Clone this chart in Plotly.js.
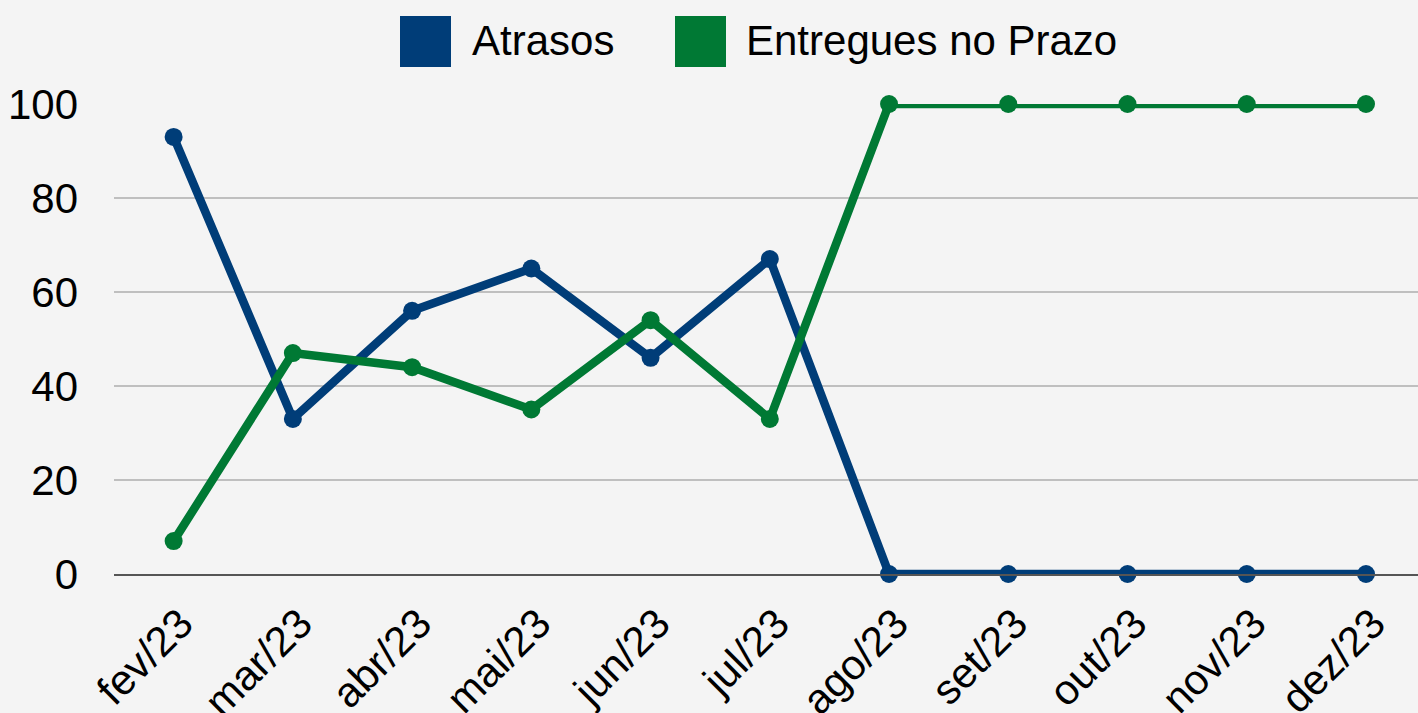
<!DOCTYPE html>
<html>
<head>
<meta charset="utf-8">
<script src="https://cdn.plot.ly/plotly-3.0.1.min.js"></script>
<style>html,body{margin:0;padding:0;background:#f4f4f4;}#chart{width:1418px;height:713px;}</style>
</head>
<body>
<div id="chart"></div>
<script>
const months = ["fev/23","mar/23","abr/23","mai/23","jun/23","jul/23","ago/23","set/23","out/23","nov/23","dez/23"];
const atrasos = [93, 33, 56, 65, 46, 67, 0, 0, 0, 0, 0];
const entregues = [7, 47, 44, 35, 54, 33, 100, 100, 100, 100, 100];
const seriesNames = ["Atrasos", "Entregues no Prazo"];
const colors = ["#003d78", "#007934"];
const yTicks = [0, 20, 40, 60, 80, 100];

const W = 1418, H = 713, L = 114, R = 0, T = 104, B = 139;
const pw = W - L - R, ph = H - T - B;
const px = x => (x - L) / pw;
const py = y => (H - B - y) / ph;

const font = "Liberation Sans, Arial, sans-serif";

const traces = [atrasos, entregues].map((vals, i) => ({
  type: "scatter",
  mode: "lines+markers",
  x: months,
  y: vals,
  name: seriesNames[i],
  showlegend: false,
  line: {color: colors[i], width: 8.5},
  marker: {color: colors[i], size: 18},
  cliponaxis: false
}));

const legendX = [400, 675];
const textX = [473, 747];
const shapes = legendX.map((x0, i) => ({
  type: "rect", xref: "paper", yref: "paper",
  x0: px(x0), x1: px(x0 + 51), y0: py(67), y1: py(16),
  fillcolor: colors[i], line: {width: 0}
}));
const annotations = seriesNames.map((n, i) => ({
  xref: "paper", yref: "paper", x: px(textX[i] - 3), y: py(40),
  xanchor: "left", yanchor: "middle", showarrow: false,
  text: n, font: {family: font, size: 42, color: "#000"}
}));

const layout = {
  width: W, height: H,
  margin: {l: L, r: R, t: T, b: B},
  paper_bgcolor: "#f4f4f4",
  plot_bgcolor: "#f4f4f4",
  showlegend: false,
  font: {family: font, size: 42, color: "#000"},
  xaxis: {
    type: "category",
    range: [-0.5, 10.436],
    tickangle: -45,
    showgrid: false,
    zeroline: false,
    showline: true,
    linecolor: "#555555",
    linewidth: 2,
    layer: "above traces",
    ticks: "",
    ticklabelstandoff: 6,
    ticklabelshift: 7,
    tickfont: {family: font, size: 42, color: "#000"}
  },
  yaxis: {
    range: [0, 100],
    tickvals: yTicks,
    showgrid: true,
    gridcolor: "#bfbfbf",
    gridwidth: 2,
    zeroline: false,
    showline: false,
    ticks: "",
    ticklabelstandoff: 35,
    tickfont: {family: font, size: 42, color: "#000"}
  },
  shapes: shapes,
  annotations: annotations
};

Plotly.newPlot("chart", traces, layout, {displayModeBar: false, staticPlot: true});
</script>
</body>
</html>
